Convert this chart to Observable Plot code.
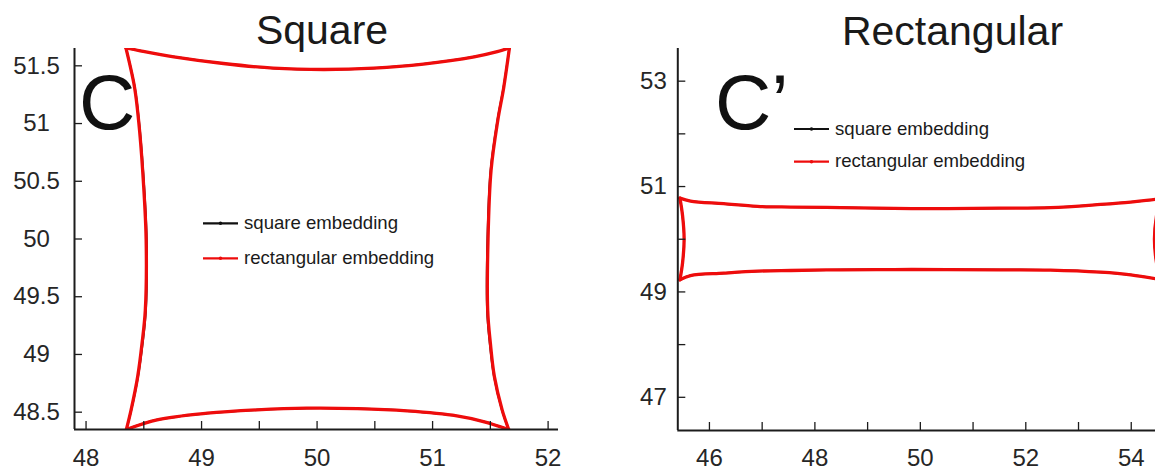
<!DOCTYPE html>
<html><head><meta charset="utf-8">
<script src="https://cdn.jsdelivr.net/npm/d3@7"></script>
<script src="https://cdn.jsdelivr.net/npm/@observablehq/plot@0.6"></script>
<style>
html,body{margin:0;padding:0;background:#fff;overflow:hidden;}
#wrap{display:flex;width:1155px;height:470px;}
#wrap svg{max-width:none;display:block;}
</style></head><body><div id="wrap"><div id="left"></div><div id="right"></div></div>
<script>
// ---------- DATA ----------
const edgeNames = ["top", "right", "bottom", "left"];

// Panel C (Square): rectangular embedding (red), per edge
const sqRectX = [
  [48.345, 48.47, 48.76, 49.19, 49.62, 50.06, 50.49, 50.92, 51.36, 51.56, 51.665],
  [51.665, 51.616, 51.564, 51.506, 51.48, 51.477, 51.5, 51.535, 51.602, 51.659],
  [48.349, 48.615, 49.05, 49.48, 49.91, 50.35, 50.78, 51.21, 51.44, 51.659],
  [48.345, 48.42, 48.455, 48.49, 48.52, 48.513, 48.485, 48.447, 48.39, 48.349]
];
const sqRectY = [
  [51.655, 51.63, 51.578, 51.52, 51.48, 51.468, 51.48, 51.515, 51.578, 51.623, 51.655],
  [51.655, 51.313, 51.025, 50.593, 50.0, 49.384, 49.099, 48.808, 48.52, 48.35],
  [48.35, 48.434, 48.491, 48.52, 48.535, 48.531, 48.511, 48.468, 48.419, 48.35],
  [51.655, 51.313, 51.025, 50.593, 50.0, 49.384, 49.099, 48.808, 48.52, 48.35]
];
// Panel C (Square): square embedding (black), per edge
const sqSqX = [
  [48.345, 48.47, 48.76, 49.19, 49.62, 50.06, 50.49, 50.92, 51.36, 51.56, 51.665],
  [51.665, 51.614, 51.561, 51.502, 51.475, 51.472, 51.495, 51.532, 51.6, 51.659],
  [48.349, 48.615, 49.05, 49.48, 49.91, 50.35, 50.78, 51.21, 51.44, 51.659],
  [48.345, 48.422, 48.458, 48.494, 48.525, 48.518, 48.49, 48.45, 48.392, 48.349]
];
const sqSqY = [
  [51.655, 51.63, 51.578, 51.52, 51.48, 51.468, 51.48, 51.515, 51.578, 51.623, 51.655],
  [51.655, 51.313, 51.025, 50.593, 50.0, 49.384, 49.099, 48.808, 48.52, 48.35],
  [48.35, 48.434, 48.491, 48.52, 48.535, 48.531, 48.511, 48.468, 48.419, 48.35],
  [51.655, 51.313, 51.025, 50.593, 50.0, 49.384, 49.099, 48.808, 48.52, 48.35]
];

// Panel C' (Rectangular): rectangular embedding (red), per edge
const reRectX = [
  [45.44, 45.64, 46.27, 46.91, 47.54, 48.49, 49.5, 50.51, 51.5, 52.47, 53.42, 53.99, 54.46, 54.56],
  [54.56, 54.48, 54.44, 54.48, 54.56],
  [45.44, 45.64, 46.27, 46.91, 47.54, 48.49, 49.5, 50.51, 51.5, 52.47, 53.42, 53.99, 54.46, 54.56],
  [45.44, 45.49, 45.52, 45.49, 45.44]
];
const reRectY = [
  [50.78, 50.725, 50.675, 50.624, 50.61, 50.6, 50.585, 50.58, 50.59, 50.6, 50.66, 50.705, 50.757, 50.78],
  [50.78, 50.45, 50.0, 49.55, 49.23],
  [49.23, 49.31, 49.356, 49.394, 49.407, 49.42, 49.425, 49.425, 49.42, 49.415, 49.375, 49.325, 49.25, 49.23],
  [50.78, 50.45, 50.0, 49.55, 49.23]
];
// Panel C' (Rectangular): square embedding (black, hidden beneath red)
const reSqX = [
  [45.44, 45.64, 46.27, 46.91, 47.54, 48.49, 49.5, 50.51, 51.5, 52.47, 53.42, 53.99, 54.46, 54.56],
  [54.56, 54.48, 54.44, 54.48, 54.56],
  [45.44, 45.64, 46.27, 46.91, 47.54, 48.49, 49.5, 50.51, 51.5, 52.47, 53.42, 53.99, 54.46, 54.56],
  [45.44, 45.49, 45.52, 45.49, 45.44]
];
const reSqY = [
  [50.78, 50.725, 50.675, 50.624, 50.61, 50.6, 50.585, 50.58, 50.59, 50.6, 50.66, 50.705, 50.757, 50.78],
  [50.78, 50.45, 50.0, 49.55, 49.23],
  [49.23, 49.31, 49.356, 49.394, 49.407, 49.42, 49.425, 49.425, 49.42, 49.415, 49.375, 49.325, 49.25, 49.23],
  [50.78, 50.45, 50.0, 49.55, 49.23]
];

// Axis ticks and labels
const sqXTicks = [48, 48.5, 49, 49.5, 50, 50.5, 51, 51.5, 52];
const sqXLabels = [48, 49, 50, 51, 52];
const sqYTicks = [48.5, 49, 49.5, 50, 50.5, 51, 51.5];
const sqYLabels = [48.5, 49, 49.5, 50, 50.5, 51, 51.5];
const reXTicks = [46, 47, 48, 49, 50, 51, 52, 53, 54];
const reXLabels = [46, 48, 50, 52, 54];
const reYTicks = [47, 48, 49, 50, 51, 52, 53];
const reYLabels = [47, 49, 51, 53];

const seriesNames = ["square embedding", "rectangular embedding"];
const panelTitles = ["Square", "Rectangular"];
const panelLetters = ["C", "C\u2019"];

// ---------- BUILD ----------
function rows(xs, ys) {
  const out = [];
  xs.forEach((arr, e) => arr.forEach((x, i) => out.push({edge: edgeNames[e], x, y: ys[e][i]})));
  return out;
}
const RED = "#ee0c0c", BLACK = "#111", AX = "#1c1c1c", TXT = "#262626";
const FONT = "'Liberation Sans', Arial, Helvetica, sans-serif";

function panel(cfg) {
  const [x0, x1] = cfg.xDomain, [y0, y1] = cfg.yDomain;
  const chart = Plot.plot({
    width: cfg.width, height: 470,
    marginLeft: cfg.ml, marginRight: cfg.mr, marginTop: 48, marginBottom: cfg.mb,
    x: {domain: cfg.xDomain}, y: {domain: cfg.yDomain},
    style: {fontFamily: FONT, background: "white", color: TXT},
    marks: [
      Plot.line(rows(cfg.bx, cfg.by), {x: "x", y: "y", z: "edge", stroke: BLACK, strokeWidth: 2, curve: "catmull-rom", clip: true}),
      Plot.line(rows(cfg.rx, cfg.ry), {x: "x", y: "y", z: "edge", stroke: RED, strokeWidth: 3.3, curve: "catmull-rom", strokeLinejoin: "round", strokeLinecap: "round", clip: true}),
      // inward ticks
      Plot.axisX(cfg.xTicks, {anchor: "bottom", tickSize: 8, dy: -8, fill: "none", stroke: AX, strokeWidth: 1.3, label: null}),
      Plot.axisY(cfg.yTicks, {anchor: "left", tickSize: 8, dx: 8, fill: "none", stroke: AX, strokeWidth: 1.3, label: null}),
      // labels
      Plot.axisX(cfg.xLabels, {anchor: "bottom", tickSize: 0, tickPadding: cfg.xPad, fontSize: 24, fill: TXT, label: null, tickFormat: d => String(d)}),
      Plot.axisY(cfg.yLabels, {anchor: "left", tickSize: 0, tickPadding: cfg.yPad, textAnchor: cfg.yAnchor, fontSize: 24, fill: TXT, label: null, tickFormat: d => String(d)}),
      // axis lines
      Plot.ruleX([x0], {stroke: AX, strokeWidth: 2}),
      Plot.ruleY([y0], {stroke: AX, strokeWidth: 2})
    ]
  });
  const svg = d3.select(chart);
  svg.append("text").attr("x", cfg.titleX).attr("y", cfg.titleY).attr("text-anchor", "middle")
    .attr("font-size", 41).attr("fill", "#1a1a1a").attr("font-family", FONT).text(cfg.title);
  svg.append("text").attr("x", cfg.letterX).attr("y", 129).attr("text-anchor", "start").attr("font-size", 78)
    .attr("fill", "#111").attr("font-family", FONT).text(cfg.letter);
  const lg = svg.append("g");
  [[BLACK, cfg.legY[0]], [RED, cfg.legY[1]]].forEach(([c, ly], i) => {
    lg.append("line").attr("x1", cfg.legX).attr("x2", cfg.legX + 35).attr("y1", ly).attr("y2", ly)
      .attr("stroke", c).attr("stroke-width", 2.2);
    lg.append("circle").attr("cx", cfg.legX + 17.5).attr("cy", ly).attr("r", 1.8).attr("fill", c);
    lg.append("text").attr("x", cfg.legX + 41).attr("y", ly + 5.5).attr("text-anchor", "start").attr("font-size", 18.6)
      .attr("fill", "#1a1a1a").attr("font-family", FONT).text(seriesNames[i]);
  });
  return chart;
}

document.getElementById("left").appendChild(panel({
  width: 580, ml: 74, mr: 22, mb: 41,
  xDomain: [47.9, 52.09], yDomain: [48.35, 51.65],
  rx: sqRectX, ry: sqRectY, bx: sqSqX, by: sqSqY,
  xTicks: sqXTicks, yTicks: sqYTicks, xLabels: sqXLabels, yLabels: sqYLabels,
  xPad: 19, yPad: 38, yAnchor: "middle",
  title: panelTitles[0], titleX: 322, titleY: 44,
  letter: panelLetters[0], letterX: 79,
  legX: 203, legY: [223.3, 258.3]
}));
document.getElementById("right").appendChild(panel({
  width: 575, ml: 97.3, mr: 0, mb: 40,
  xDomain: [45.4, 54.46], yDomain: [46.37, 53.62],
  rx: reRectX, ry: reRectY, bx: reSqX, by: reSqY,
  xTicks: reXTicks, yTicks: reYTicks, xLabels: reXLabels, yLabels: reYLabels,
  xPad: 18, yPad: 11, yAnchor: "end",
  title: panelTitles[1], titleX: 372.5, titleY: 45,
  letter: panelLetters[1], letterX: 135,
  legX: 214, legY: [129, 161.7]
}));
</script></body></html>
